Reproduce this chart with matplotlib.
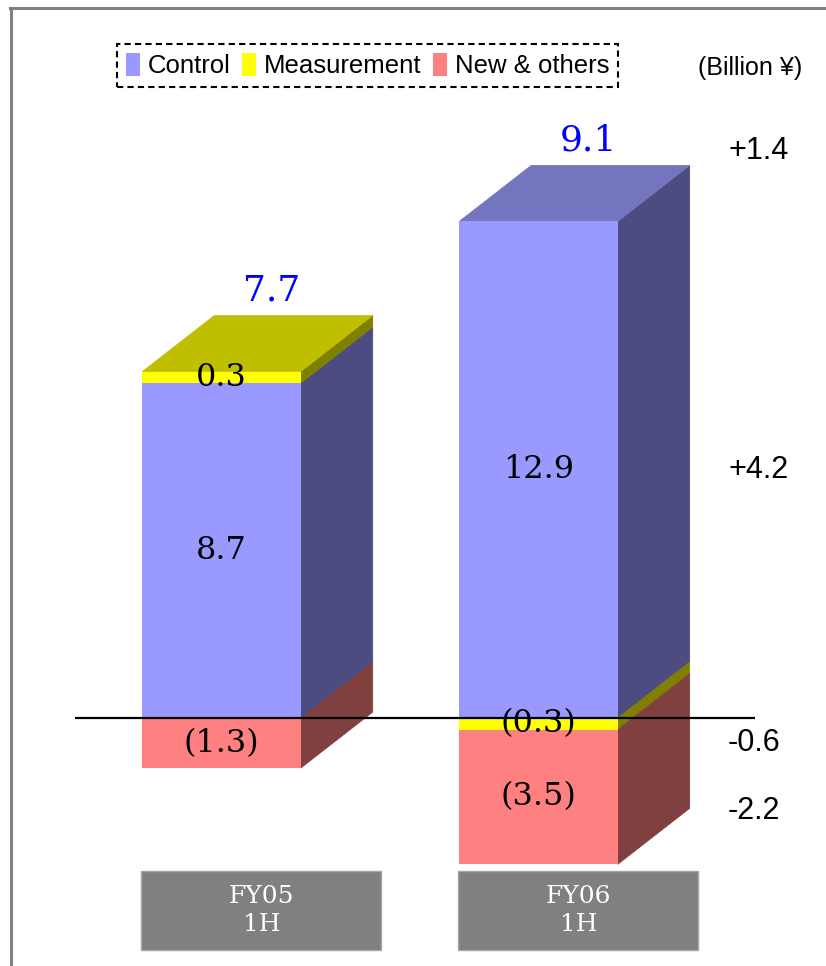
import numpy as np
import matplotlib.pyplot as plt
import matplotlib.transforms as mtransforms
from matplotlib.patches import Polygon, Rectangle, Patch
from matplotlib.lines import Line2D

categories = ['FY05\n1H', 'FY06\n1H']
series = ['Control', 'Measurement', 'New & others']
control = [8.7, 12.9]
measurement = [0.3, -0.3]
new_others = [-1.3, -3.5]
totals = [7.7, 9.1]

frontColors = ['#9999FF', '#FFFF00', '#FF8080']
sideColors = ['#4C4C80', '#808000', '#804040']
topColors = ['#7575BF', '#BFBF00', '#BF6060']

serif = 'DejaVu Serif'
sans = 'Liberation Sans'


def fmt(v):
    return '(%.1f)' % abs(v) if v < 0 else '%.1f' % v


fig = plt.figure(figsize=(8.26, 9.66), dpi=100)
ax = fig.add_axes([0, 0, 1, 1])
ax.set_xlim(-0.699, 1.907)
ax.set_ylim(-6.44, 18.65)
ax.axis('off')

x = np.arange(len(categories))
width = 0.5
dx, dy = 0.227, 1.455   # 3d depth offsets

vals = np.array([control, measurement, new_others])
posBase = np.zeros(len(x))
negBase = np.zeros(len(x))
topIdx = [0] * len(x)
segCenters = np.zeros(vals.shape)

for i, name in enumerate(series):
    v = vals[i]
    base = np.where(v >= 0, posBase, negBase)
    ax.bar(x, v, width, bottom=base, color=frontColors[i], zorder=2)
    for j in range(len(x)):
        y0, y1 = base[j], base[j] + v[j]
        xr = x[j] + width / 2
        ax.add_patch(Polygon([(xr, y0), (xr + dx, y0 + dy), (xr + dx, y1 + dy), (xr, y1)],
                             closed=True, color=sideColors[i], lw=0.5, zorder=1))
        segCenters[i, j] = (y0 + y1) / 2
        ax.text(x[j], segCenters[i, j], fmt(v[j]), ha='center', va='center',
                family=serif, size=23, color='black', zorder=4)
        if v[j] > 0:
            topIdx[j] = i
    posBase = posBase + np.clip(v, 0, None)
    negBase = negBase + np.clip(v, None, 0)

# top faces
for j in range(len(x)):
    t = posBase[j]
    xl, xr = x[j] - width / 2, x[j] + width / 2
    ax.add_patch(Polygon([(xl, t), (xl + dx, t + dy), (xr + dx, t + dy), (xr, t)],
                         closed=True, color=topColors[topIdx[j]], lw=0.5, zorder=1))
    ax.annotate(fmt(totals[j]), xy=(x[j] + dx * 0.7, t + dy), xytext=(0, 6),
                textcoords='offset points', ha='center', va='bottom',
                family=serif, size=26, color='#0000FF')

# zero line
ax.hlines(0, x[0] - 0.462, x[-1] + 0.683, color='black', lw=1.6, zorder=3)

# changes on the right
diffs = [totals[1] - totals[0]] + [vals[i, 1] - vals[i, 0] for i in range(len(series))]
diffY = [posBase[1] + dy, segCenters[0, 1], 0, segCenters[2, 1]]
diffOff = [10, 0, -18, -10]
for d, yv, off in zip(diffs, diffY, diffOff):
    ax.annotate('%+.1f' % d, xy=(x[-1] + 0.598, yv), xytext=(0, off),
                textcoords='offset points', ha='left', va='center',
                family=sans, size=22, color='black')

# category boxes
trans = mtransforms.blended_transform_factory(ax.transData, ax.transAxes)
boxW = 0.757
for j, cat in enumerate(categories):
    x0 = x[j] - width / 2 - 0.003
    ax.add_patch(Rectangle((x0, 0.0166), boxW, 0.0818, transform=trans,
                           facecolor='#808080', edgecolor='#A6A6A6', lw=1))
    ax.text(x0 + boxW / 2, 0.0575, cat, transform=trans, ha='center', va='center',
            family=serif, size=18, color='white', linespacing=1.3)

# legend
handles = [Patch(facecolor=c, edgecolor='none') for c in frontColors]
leg = fig.legend(handles, series, loc='center', bbox_to_anchor=(0.445, 0.932), ncol=3,
                 frameon=True, fancybox=False, edgecolor='black', framealpha=1,
                 handlelength=0.55, handleheight=1.0, handletextpad=0.3,
                 columnspacing=0.45, borderpad=0.35,
                 prop={'family': sans, 'size': 18.5})
leg.get_frame().set_linestyle((0, (3, 2)))
leg.get_frame().set_linewidth(1.5)
fig.text(0.908, 0.93, '(Billion \u00a5)', ha='center', va='center', family=sans, size=18)

# outer frame (left and top edges visible)
fig.add_artist(Line2D([0.0139, 0.0139], [0, 0.9922], color='#808080', lw=2.2))
fig.add_artist(Line2D([0.0125, 1], [0.9922, 0.9922], color='#808080', lw=2.2))

fig.savefig('out.png', dpi=100)
